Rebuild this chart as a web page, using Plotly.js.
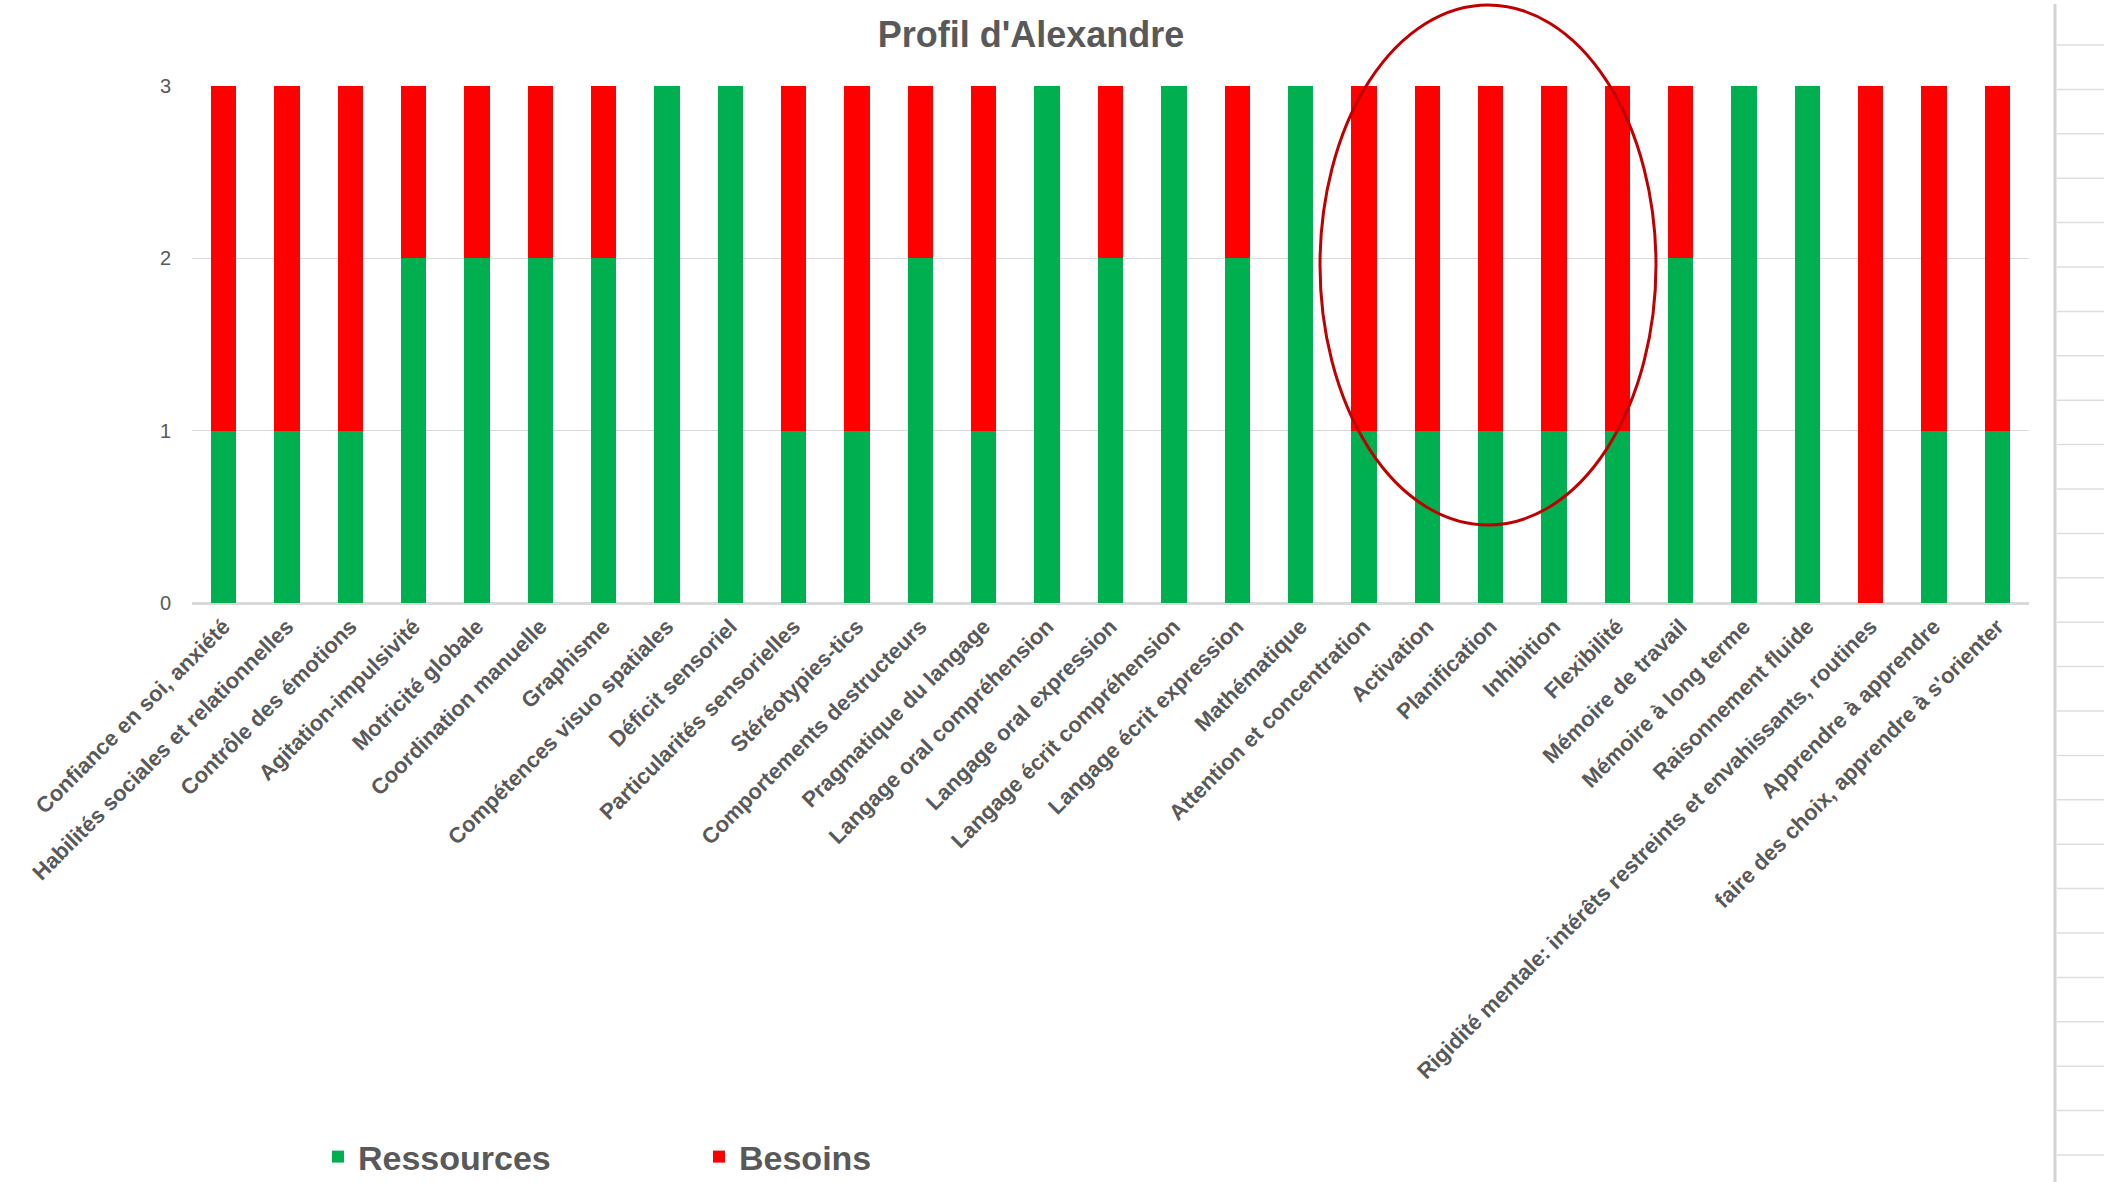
<!DOCTYPE html>
<html>
<head>
<meta charset="utf-8">
<script src="https://cdn.plot.ly/plotly-3.0.1.min.js"></script>
<style>
  html, body { margin: 0; padding: 0; background: #ffffff; }
  #chart { width: 2104px; height: 1182px; }
</style>
</head>
<body>
<div id="chart"></div>
<script>
const categories = [
  "Confiance en soi, anxiété",
  "Habilités sociales et relationnelles",
  "Contrôle des émotions",
  "Agitation-impulsivité",
  "Motricité globale",
  "Coordination manuelle",
  "Graphisme",
  "Compétences visuo spatiales",
  "Déficit sensoriel",
  "Particularités sensorielles",
  "Stéréotypies-tics",
  "Comportements destructeurs",
  "Pragmatique du langage",
  "Langage oral compréhension",
  "Langage oral expression",
  "Langage écrit compréhension",
  "Langage écrit expression",
  "Mathématique",
  "Attention et concentration",
  "Activation",
  "Planification",
  "Inhibition",
  "Flexibilité",
  "Mémoire de travail",
  "Mémoire à long terme",
  "Raisonnement fluide",
  "Rigidité mentale: intérêts restreints et envahissants, routines",
  "Apprendre à apprendre",
  "faire des choix, apprendre à s'orienter"
];
const ressources = [1,1,1,2,2,2,2,3,3,1,1,2,1,3,2,3,2,3,1,1,1,1,1,2,3,3,0,1,1];
const besoins    = [2,2,2,1,1,1,1,0,0,2,2,1,2,0,1,0,1,0,2,2,2,2,2,1,0,0,3,2,2];
const yTicks = [0,1,2,3];
const seriesNames = ["Ressources", "Besoins"];
const titleText = "Profil d'Alexandre";

const W = 2104, H = 1182;
const L = 192, R = 2029, T = 86, B = 603;
function px(x) { return (x - L) / (R - L); }
function py(y) { return (B - y) / (B - T); }

const grey = "#595959";
const font = "Liberation Sans, Arial, sans-serif";

const traces = [
  { type: "bar", name: seriesNames[0], x: categories, y: ressources,
    marker: { color: "#00B050" }, hoverinfo: "x+y+name" },
  { type: "bar", name: seriesNames[1], x: categories, y: besoins,
    marker: { color: "#FF0000" }, hoverinfo: "x+y+name" }
];

const shapes = [];
// highlight ellipse
shapes.push({ type: "circle", xref: "paper", yref: "paper",
  x0: px(1320), x1: px(1656), y0: py(525), y1: py(5),
  line: { color: "#C00000", width: 3 }, fillcolor: "rgba(0,0,0,0)", layer: "above" });
// spreadsheet edge decoration on the right
shapes.push({ type: "line", xref: "paper", yref: "paper",
  x0: px(2055), x1: px(2055), y0: py(4), y1: py(1182),
  line: { color: "#d4d4d4", width: 3 } });
for (let k = 0; k < 26; k++) {
  const yy = 45 + 44.4 * k;
  shapes.push({ type: "line", xref: "paper", yref: "paper",
    x0: px(2057), x1: px(2104), y0: py(yy), y1: py(yy),
    line: { color: "#dedede", width: 1.5 } });
}

const layout = {
  width: W, height: H,
  paper_bgcolor: "#ffffff", plot_bgcolor: "#ffffff",
  margin: { l: L, r: W - R, t: T, b: H - B, autoexpand: false },
  barmode: "stack",
  bargap: 0.6,
  font: { family: font, color: grey },
  title: { text: titleText, x: 1031 / W, xanchor: "center", y: 1 - 34 / H, yanchor: "middle",
    font: { family: font, size: 36, color: grey, weight: "bold" } },
  xaxis: {
    type: "category", tickmode: "array", tickvals: categories, ticktext: categories,
    range: [-0.5, categories.length - 0.5],
    tickangle: -45, tickfont: { family: font, size: 22, color: grey, weight: "bold" },
    showline: true, linecolor: "#d9d9d9", linewidth: 2, ticks: "", showgrid: false,
    fixedrange: true
  },
  yaxis: {
    range: [0, 3], tickmode: "array", tickvals: yTicks,
    tickfont: { family: font, size: 20, color: grey },
    showgrid: true, gridcolor: "#d9d9d9", gridwidth: 1.5,
    zeroline: true, zerolinecolor: "#d9d9d9", zerolinewidth: 2,
    showline: false, ticks: "", ticklabelstandoff: 20, fixedrange: true
  },
  showlegend: true,
  legend: {
    orientation: "h", x: px(318), xanchor: "left", y: py(1157), yanchor: "middle",
    font: { family: font, size: 34, color: grey, weight: "bold" },
    entrywidth: 336, entrywidthmode: "pixels", traceorder: "normal",
    bgcolor: "rgba(0,0,0,0)"
  },
  shapes: shapes
};

Plotly.newPlot("chart", traces, layout, { displayModeBar: false, staticPlot: true });
</script>
</body>
</html>
